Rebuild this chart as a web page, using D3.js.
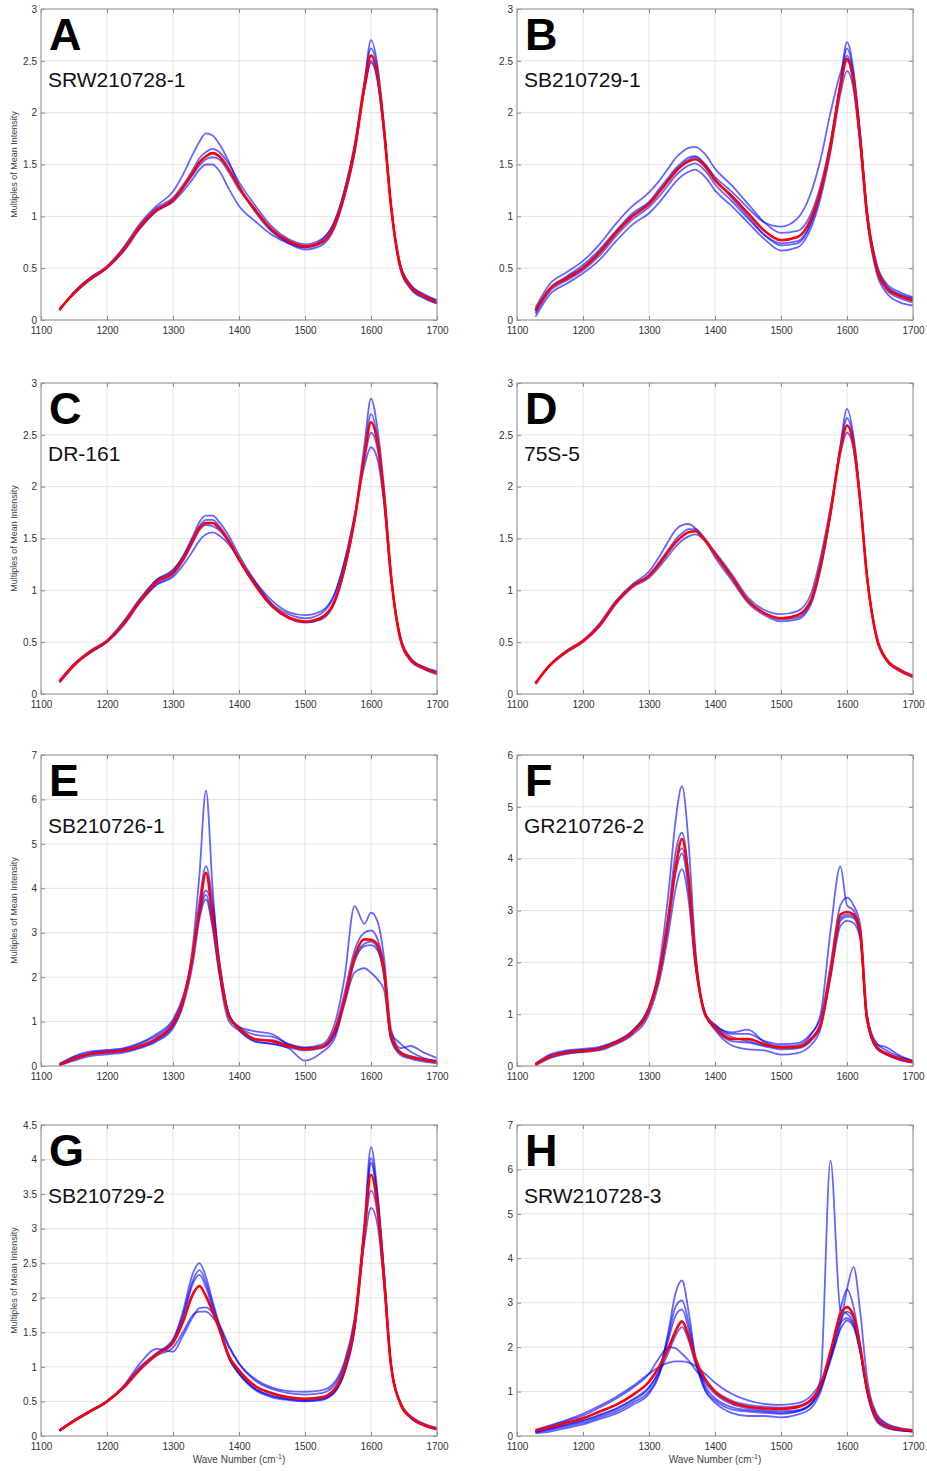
<!DOCTYPE html>
<html>
<head>
<meta charset="utf-8">
<script src="https://cdn.jsdelivr.net/npm/d3@7"></script>
<style>
  body { margin: 0; background: #fff; }
  text { font-family: "Liberation Sans", Arial, sans-serif; }
</style>
</head>
<body>
<div id="chart"></div>
<script>
// wave numbers (cm-1) shared by every spectrum
var waveNumbers = [1128,1150,1175,1200,1225,1250,1275,1300,1315,1330,1340,1350,1360,1370,1385,1400,1425,1450,1475,1500,1525,1545,1560,1575,1590,1600,1610,1620,1630,1645,1660,1680,1700];

var letters = ["A","B","C","D","E","F","G","H"];
var sampleNames = ["SRW210728-1","SB210729-1","DR-161","75S-5","SB210726-1","GR210726-2","SB210729-2","SRW210728-3"];
var yMaxes = [3, 3, 3, 3, 7, 6, 4.5, 7];
var yStep = [0.5, 0.5, 0.5, 0.5, 1, 1, 0.5, 1];
var xTickValues = [1100,1200,1300,1400,1500,1600,1700];

// mean spectra (red)
var meanA = [0.10,0.26,0.40,0.51,0.68,0.90,1.06,1.16,1.28,1.42,1.52,1.58,1.61,1.58,1.45,1.28,1.06,0.87,0.76,0.71,0.75,0.92,1.22,1.64,2.25,2.55,2.35,1.82,1.12,0.50,0.32,0.23,0.17];
var meanB = [0.09,0.30,0.40,0.50,0.65,0.84,1.00,1.12,1.23,1.35,1.43,1.49,1.53,1.55,1.48,1.35,1.20,1.03,0.86,0.77,0.80,0.97,1.25,1.68,2.25,2.52,2.30,1.74,1.04,0.50,0.31,0.23,0.19];
var meanC = [0.12,0.28,0.41,0.51,0.68,0.90,1.08,1.17,1.30,1.48,1.60,1.65,1.65,1.60,1.47,1.30,1.05,0.85,0.74,0.70,0.74,0.90,1.22,1.68,2.30,2.62,2.42,1.90,1.16,0.52,0.33,0.25,0.20];
var meanD = [0.10,0.28,0.41,0.51,0.66,0.88,1.04,1.14,1.25,1.38,1.46,1.52,1.56,1.57,1.48,1.35,1.13,0.90,0.78,0.73,0.76,0.90,1.25,1.75,2.35,2.59,2.40,1.86,1.15,0.54,0.33,0.23,0.17];
var meanE = [0.03,0.17,0.27,0.31,0.35,0.45,0.62,0.95,1.45,2.50,3.50,4.35,3.35,2.25,1.10,0.85,0.60,0.56,0.45,0.38,0.42,0.80,1.50,2.45,2.85,2.84,2.72,2.10,0.70,0.30,0.21,0.14,0.09];
var meanF = [0.03,0.18,0.26,0.29,0.33,0.45,0.65,1.10,1.75,2.90,3.80,4.38,3.60,2.10,1.00,0.75,0.52,0.52,0.42,0.36,0.37,0.52,0.80,1.80,2.92,2.97,2.92,2.60,0.95,0.36,0.24,0.14,0.08];
var meanG = [0.08,0.22,0.36,0.50,0.70,0.97,1.18,1.35,1.65,2.05,2.17,2.02,1.80,1.55,1.15,0.95,0.72,0.62,0.56,0.54,0.56,0.68,0.98,1.60,2.95,3.78,3.30,2.25,1.05,0.46,0.27,0.16,0.10];
var meanH = [0.12,0.20,0.30,0.40,0.55,0.70,0.92,1.22,1.55,2.00,2.35,2.58,2.25,1.75,1.28,1.00,0.76,0.66,0.62,0.61,0.65,0.80,1.15,1.90,2.72,2.90,2.70,2.00,1.10,0.40,0.22,0.15,0.12];

// individual spectra (blue)
var spectraA = [
  [0.09,0.27,0.41,0.52,0.70,0.93,1.10,1.24,1.40,1.60,1.72,1.80,1.78,1.70,1.52,1.30,1.04,0.85,0.75,0.70,0.74,0.91,1.20,1.62,2.28,2.70,2.45,1.86,1.12,0.48,0.30,0.21,0.16],
  [0.11,0.25,0.39,0.50,0.66,0.88,1.05,1.14,1.24,1.36,1.45,1.50,1.50,1.44,1.26,1.10,0.95,0.82,0.74,0.70,0.77,0.96,1.26,1.68,2.22,2.48,2.30,1.78,1.12,0.52,0.34,0.25,0.19],
  [0.10,0.27,0.41,0.51,0.69,0.91,1.08,1.18,1.30,1.45,1.56,1.62,1.65,1.62,1.50,1.33,1.10,0.90,0.78,0.73,0.78,0.95,1.25,1.68,2.30,2.62,2.40,1.84,1.13,0.49,0.31,0.22,0.16],
  [0.10,0.26,0.39,0.50,0.67,0.89,1.05,1.15,1.27,1.40,1.49,1.55,1.57,1.55,1.42,1.26,1.05,0.86,0.74,0.68,0.72,0.89,1.19,1.60,2.22,2.50,2.32,1.80,1.12,0.52,0.34,0.24,0.19]
];
var spectraB = [
  [0.12,0.35,0.46,0.57,0.73,0.93,1.10,1.23,1.34,1.47,1.56,1.62,1.66,1.67,1.60,1.46,1.30,1.12,0.94,0.84,0.86,1.02,1.30,1.72,2.30,2.68,2.40,1.80,1.08,0.54,0.35,0.27,0.22],
  [0.03,0.25,0.35,0.45,0.58,0.76,0.92,1.03,1.13,1.25,1.33,1.39,1.43,1.45,1.38,1.25,1.10,0.94,0.78,0.67,0.70,0.88,1.18,1.62,2.18,2.40,2.22,1.68,1.00,0.45,0.26,0.17,0.14],
  [0.08,0.30,0.41,0.51,0.66,0.85,1.01,1.13,1.24,1.36,1.44,1.50,1.55,1.57,1.50,1.38,1.24,1.08,0.94,0.90,0.98,1.22,1.55,2.00,2.38,2.55,2.32,1.76,1.05,0.50,0.32,0.24,0.20],
  [0.10,0.31,0.42,0.53,0.68,0.86,1.03,1.14,1.26,1.38,1.46,1.52,1.57,1.58,1.50,1.36,1.18,1.00,0.82,0.72,0.74,0.92,1.22,1.66,2.28,2.62,2.36,1.78,1.06,0.52,0.33,0.25,0.21],
  [0.06,0.28,0.38,0.48,0.62,0.81,0.97,1.09,1.19,1.31,1.39,1.45,1.49,1.51,1.44,1.31,1.15,0.98,0.82,0.74,0.76,0.94,1.24,1.70,2.26,2.50,2.28,1.72,1.02,0.48,0.29,0.21,0.17]
];
var spectraC = [
  [0.12,0.29,0.42,0.52,0.70,0.92,1.10,1.19,1.33,1.52,1.66,1.72,1.72,1.66,1.52,1.34,1.08,0.86,0.74,0.69,0.72,0.88,1.20,1.68,2.40,2.85,2.55,1.97,1.18,0.51,0.32,0.24,0.19],
  [0.13,0.28,0.40,0.50,0.66,0.88,1.05,1.13,1.24,1.38,1.48,1.54,1.56,1.53,1.44,1.30,1.08,0.90,0.79,0.76,0.80,0.97,1.28,1.70,2.20,2.38,2.26,1.82,1.14,0.54,0.35,0.26,0.22],
  [0.11,0.27,0.41,0.51,0.69,0.91,1.10,1.20,1.32,1.50,1.62,1.68,1.68,1.62,1.48,1.30,1.04,0.84,0.73,0.69,0.73,0.89,1.20,1.66,2.32,2.70,2.46,1.90,1.16,0.52,0.33,0.25,0.20],
  [0.12,0.28,0.40,0.50,0.67,0.89,1.06,1.15,1.28,1.46,1.58,1.63,1.62,1.58,1.46,1.29,1.06,0.87,0.77,0.73,0.78,0.96,1.28,1.72,2.26,2.52,2.36,1.86,1.15,0.53,0.34,0.26,0.21]
];
var spectraD = [
  [0.10,0.28,0.42,0.52,0.68,0.90,1.06,1.18,1.32,1.48,1.58,1.63,1.64,1.60,1.48,1.32,1.10,0.88,0.76,0.70,0.72,0.86,1.20,1.72,2.40,2.75,2.48,1.90,1.16,0.53,0.32,0.22,0.16],
  [0.11,0.27,0.40,0.50,0.65,0.87,1.03,1.12,1.22,1.34,1.42,1.48,1.52,1.54,1.48,1.37,1.16,0.93,0.81,0.77,0.80,0.96,1.32,1.80,2.32,2.52,2.36,1.85,1.15,0.56,0.34,0.24,0.18],
  [0.10,0.28,0.41,0.51,0.67,0.89,1.05,1.15,1.27,1.40,1.49,1.55,1.59,1.59,1.50,1.36,1.14,0.90,0.78,0.72,0.74,0.88,1.22,1.74,2.38,2.66,2.44,1.88,1.16,0.54,0.33,0.23,0.17]
];
var spectraE = [
  [0.02,0.15,0.26,0.30,0.33,0.42,0.58,0.90,1.40,2.70,4.30,6.20,4.00,2.20,1.00,0.80,0.55,0.50,0.42,0.35,0.40,0.72,1.45,2.35,2.70,2.72,2.60,2.00,0.65,0.28,0.19,0.13,0.08],
  [0.05,0.22,0.33,0.36,0.40,0.52,0.72,1.05,1.55,2.50,3.40,3.85,3.20,2.10,1.15,0.88,0.70,0.66,0.50,0.42,0.48,0.95,2.00,3.60,3.20,3.45,3.25,2.40,0.85,0.40,0.45,0.30,0.18],
  [0.01,0.12,0.22,0.26,0.30,0.40,0.55,0.85,1.35,2.30,3.30,3.75,3.10,2.10,1.15,0.82,0.55,0.50,0.40,0.12,0.30,0.62,1.40,2.10,2.20,2.10,1.95,1.70,0.60,0.24,0.16,0.10,0.06],
  [0.04,0.20,0.30,0.34,0.38,0.50,0.68,1.00,1.50,2.55,3.70,4.50,3.70,2.40,1.15,0.85,0.60,0.58,0.47,0.40,0.44,0.80,1.65,2.60,3.00,3.05,2.85,2.20,0.68,0.31,0.22,0.16,0.11],
  [0.03,0.17,0.28,0.32,0.36,0.45,0.60,0.92,1.45,2.45,3.45,3.95,3.50,2.35,1.15,0.88,0.78,0.72,0.48,0.40,0.42,0.70,1.50,2.40,2.75,2.80,2.65,2.05,0.75,0.50,0.32,0.18,0.12]
];
var spectraF = [
  [0.02,0.17,0.25,0.28,0.32,0.44,0.64,1.10,1.90,3.40,4.70,5.40,4.30,2.30,1.00,0.72,0.48,0.45,0.38,0.32,0.34,0.48,0.78,1.80,2.80,2.88,2.85,2.50,0.90,0.34,0.22,0.12,0.07],
  [0.04,0.20,0.28,0.31,0.35,0.47,0.68,1.12,1.70,2.80,3.70,4.10,3.40,2.00,1.02,0.78,0.65,0.70,0.46,0.38,0.40,0.60,1.00,2.60,3.85,3.10,3.00,2.60,1.00,0.42,0.36,0.20,0.10],
  [0.01,0.15,0.23,0.27,0.30,0.42,0.60,1.00,1.60,2.60,3.40,3.80,3.20,1.95,1.02,0.70,0.40,0.32,0.30,0.22,0.25,0.40,0.72,1.70,2.70,2.80,2.76,2.45,0.90,0.34,0.22,0.12,0.06],
  [0.05,0.22,0.30,0.33,0.37,0.48,0.68,1.15,1.80,3.00,4.10,4.50,3.70,2.15,1.02,0.80,0.62,0.62,0.48,0.42,0.44,0.62,0.92,1.95,3.10,3.25,3.10,2.72,1.02,0.44,0.30,0.18,0.10],
  [0.03,0.19,0.27,0.30,0.34,0.46,0.66,1.08,1.72,2.85,3.85,4.20,3.55,2.05,0.98,0.76,0.56,0.48,0.40,0.35,0.36,0.50,0.80,1.75,2.85,2.92,2.88,2.55,0.92,0.38,0.25,0.15,0.09]
];
var spectraG = [
  [0.08,0.23,0.37,0.51,0.72,1.00,1.20,1.40,1.80,2.35,2.50,2.30,1.95,1.62,1.15,0.92,0.68,0.58,0.53,0.51,0.53,0.64,0.92,1.52,2.90,3.95,3.40,2.30,1.05,0.46,0.27,0.16,0.10],
  [0.08,0.21,0.35,0.49,0.72,1.05,1.26,1.22,1.45,1.72,1.85,1.86,1.78,1.62,1.30,1.05,0.80,0.68,0.62,0.60,0.62,0.74,1.04,1.65,2.80,3.30,3.05,2.15,1.05,0.48,0.29,0.18,0.11],
  [0.09,0.22,0.36,0.50,0.70,0.98,1.18,1.36,1.70,2.20,2.33,2.15,1.85,1.55,1.12,0.90,0.68,0.58,0.54,0.52,0.54,0.65,0.95,1.58,3.10,4.18,3.50,2.35,1.07,0.46,0.28,0.17,0.12],
  [0.08,0.22,0.36,0.50,0.69,0.95,1.16,1.28,1.50,1.75,1.80,1.80,1.72,1.58,1.28,1.05,0.82,0.70,0.65,0.64,0.66,0.78,1.08,1.70,2.95,3.55,3.20,2.20,1.05,0.46,0.27,0.16,0.10],
  [0.07,0.22,0.36,0.50,0.70,0.98,1.19,1.38,1.75,2.25,2.40,2.22,1.90,1.58,1.12,0.90,0.66,0.56,0.52,0.50,0.52,0.63,0.93,1.55,3.00,4.02,3.45,2.32,1.06,0.45,0.26,0.15,0.09]
];
var spectraH = [
  [0.10,0.17,0.26,0.35,0.48,0.62,0.82,1.10,1.42,1.90,2.25,2.45,2.15,1.65,1.20,0.95,0.72,0.62,0.58,0.56,0.58,0.72,1.30,6.20,2.85,2.75,2.55,1.90,1.02,0.38,0.21,0.14,0.11],
  [0.08,0.14,0.22,0.30,0.42,0.55,0.75,1.00,1.40,2.40,3.20,3.50,2.80,1.80,1.05,0.80,0.60,0.55,0.52,0.50,0.55,0.70,1.05,1.80,2.60,2.80,2.65,1.95,1.07,0.37,0.20,0.13,0.10],
  [0.14,0.24,0.36,0.50,0.68,0.88,1.12,1.40,1.55,1.65,1.68,1.68,1.65,1.58,1.40,1.20,0.95,0.80,0.72,0.70,0.74,0.90,1.20,1.75,2.40,2.60,2.45,1.90,1.12,0.45,0.26,0.17,0.13],
  [0.12,0.22,0.34,0.46,0.64,0.84,1.08,1.40,1.75,2.00,1.98,1.85,1.70,1.50,1.25,1.02,0.80,0.70,0.66,0.64,0.68,0.82,1.12,1.70,2.50,3.30,3.80,2.80,1.35,0.50,0.28,0.18,0.14],
  [0.09,0.16,0.25,0.34,0.46,0.60,0.80,1.08,1.48,2.30,2.90,3.05,2.55,1.78,1.12,0.85,0.65,0.58,0.55,0.52,0.56,0.72,1.08,1.85,2.85,3.30,2.90,2.05,1.07,0.37,0.20,0.13,0.10],
  [0.06,0.10,0.18,0.26,0.38,0.50,0.70,0.95,1.35,2.20,2.70,2.85,2.40,1.70,1.02,0.75,0.52,0.45,0.45,0.42,0.48,0.62,1.00,1.75,2.55,2.65,2.50,1.90,1.02,0.33,0.18,0.12,0.10]
];

var means = [meanA, meanB, meanC, meanD, meanE, meanF, meanG, meanH];
var spectra = [spectraA, spectraB, spectraC, spectraD, spectraE, spectraF, spectraG, spectraH];

var W = 927, H = 1471;
var colLeft = [41, 517];
var rowTop = [9, 383, 755, 1125];
var plotW = 396, plotH = 311;

var svg = d3.select("#chart").append("svg")
  .attr("width", W)
  .attr("height", H);

svg.append("rect").attr("width", W).attr("height", H).attr("fill", "#fff");

function drawPanel(i) {
  var x0 = colLeft[i % 2], y0 = rowTop[Math.floor(i / 2)];
  var g = svg.append("g").attr("transform", "translate(" + x0 + "," + y0 + ")");

  var x = d3.scaleLinear().domain([1100, 1700]).range([0, plotW]);
  var y = d3.scaleLinear().domain([0, yMaxes[i]]).range([plotH, 0]);
  var yTicks = d3.range(0, yMaxes[i] + 1e-9, yStep[i]).map(function(d) { return +d.toFixed(2); });

  // grid
  g.append("g").selectAll("line.gx")
    .data(xTickValues.slice(1, -1))
    .enter().append("line")
    .attr("x1", function(d) { return x(d); })
    .attr("x2", function(d) { return x(d); })
    .attr("y1", 0).attr("y2", plotH)
    .style("stroke", "#e3e3e3").style("stroke-width", "1px");
  g.append("g").selectAll("line.gy")
    .data(yTicks.slice(1, -1))
    .enter().append("line")
    .attr("x1", 0).attr("x2", plotW)
    .attr("y1", function(d) { return y(d); })
    .attr("y2", function(d) { return y(d); })
    .style("stroke", "#e3e3e3").style("stroke-width", "1px");

  var line = d3.line()
    .x(function(d, j) { return x(waveNumbers[j]); })
    .y(function(d) { return y(d); })
    .curve(d3.curveMonotoneX);

  // individual spectra
  g.append("g").selectAll("path")
    .data(spectra[i])
    .enter().append("path")
    .attr("d", line)
    .attr("fill", "none")
    .style("stroke", "#0000ff")
    .style("stroke-width", "1.8px")
    .style("stroke-opacity", 0.6);

  // mean spectrum
  g.append("path")
    .attr("d", line(means[i]))
    .attr("fill", "none")
    .style("stroke", "#ff0000")
    .style("stroke-width", "2.6px");

  // axes
  var xAxis = d3.axisBottom(x).tickValues(xTickValues).tickSizeInner(-4).tickSizeOuter(0).tickPadding(7)
    .tickFormat(d3.format("d"));
  var yAxis = d3.axisLeft(y).tickValues(yTicks).tickSizeInner(-4).tickSizeOuter(0).tickPadding(4)
    .tickFormat(function(d) { return String(d); });
  var xTop = d3.axisTop(x).tickValues(xTickValues).tickSizeInner(-4).tickSizeOuter(0).tickFormat("");
  var yRight = d3.axisRight(y).tickValues(yTicks).tickSizeInner(-4).tickSizeOuter(0).tickFormat("");

  [g.append("g").attr("transform", "translate(0," + plotH + ")").call(xAxis),
   g.append("g").call(yAxis),
   g.append("g").call(xTop),
   g.append("g").attr("transform", "translate(" + plotW + ",0)").call(yRight)
  ].forEach(function(a) {
    a.select(".domain").remove();
    a.selectAll("line").style("stroke", "#8a8a8a");
    a.selectAll("text").style("font-size", "10px").style("fill", "#333");
  });

  g.append("rect")
    .attr("width", plotW).attr("height", plotH)
    .attr("fill", "none")
    .style("stroke", "#9a9a9a").style("stroke-width", "1.2px");

  // labels
  g.append("text")
    .attr("x", 8).attr("y", 41)
    .style("font-size", "45px").style("font-weight", "bold")
    .text(letters[i]);
  g.append("text")
    .attr("x", 7).attr("y", 78)
    .style("font-size", "21px").style("fill", "#111")
    .text(sampleNames[i]);

  if (i % 2 === 0) {
    g.append("text")
      .attr("transform", "translate(-24," + (plotH / 2) + ") rotate(-90)")
      .attr("text-anchor", "middle")
      .style("font-size", "9px").style("fill", "#444")
      .text("Multiples of Mean Intensity");
  }
  if (i >= 6) {
    var lab = g.append("text")
      .attr("x", plotW / 2).attr("y", plotH + 27)
      .attr("text-anchor", "middle")
      .style("font-size", "10px").style("fill", "#444");
    lab.append("tspan").text("Wave Number (cm");
    lab.append("tspan").attr("dy", -4).style("font-size", "7px").text("-1");
    lab.append("tspan").attr("dy", 4).text(")");
  }
}

for (var i = 0; i < 8; i++) drawPanel(i);
</script>
</body>
</html>
